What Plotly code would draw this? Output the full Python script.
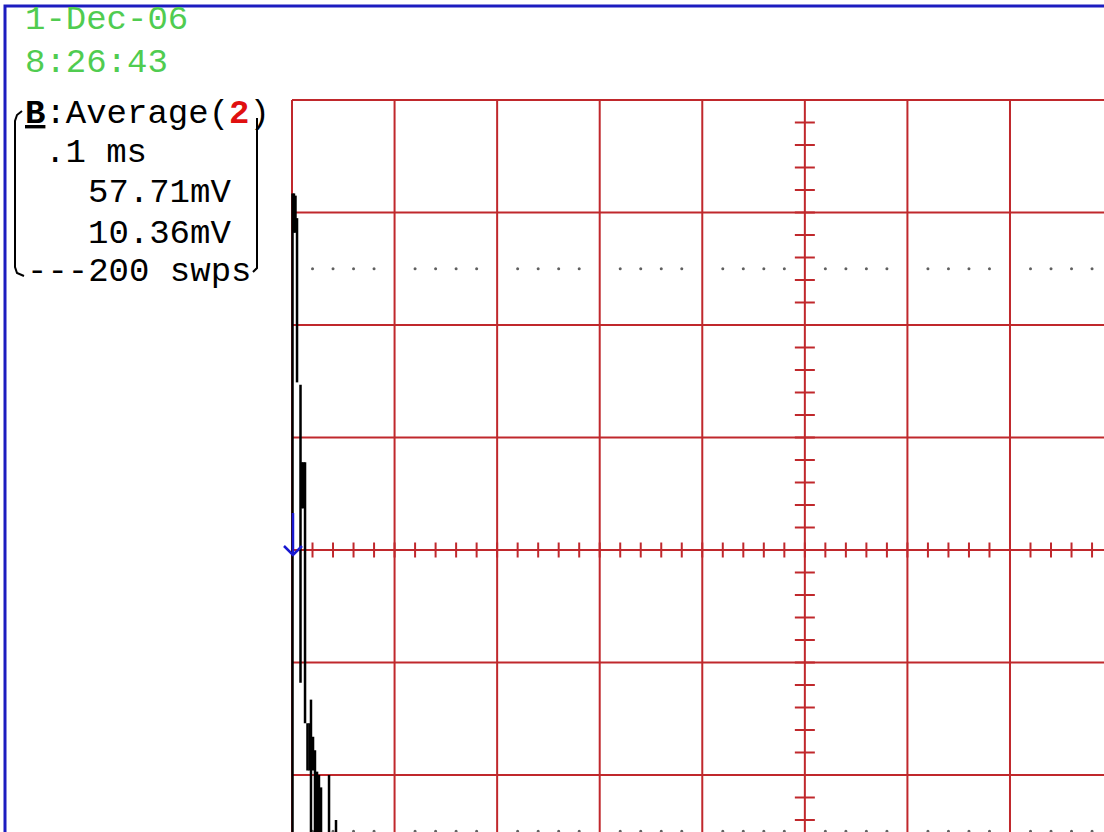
import plotly.graph_objects as go

# scope screen capture geometry (pixels)
WIDTH, HEIGHT = 1104, 832
X0_PX, Y0_PX = 292, 550        # left edge of graticule, centre line
DIV_W, DIV_H = 102.57, 112.5   # one division in pixels
MS_PER_DIV = 0.1


def t_at(px):
    return (px - X0_PX) / DIV_W * MS_PER_DIV


def v_at(py):
    return (Y0_PX - py) / DIV_H


# graticule: 10 x 8 divisions
grid_t = [i * MS_PER_DIV for i in range(11)]
grid_v = [-4, -3, -2, -1, 0, 1, 2, 3, 4]
minor_t = [i * 0.02 for i in range(51)]
minor_v = [i * 0.2 for i in range(-20, 21)]
cursor_v = [2.5, -2.5]

# channel B average, peak-detect columns: time (ms), max / min (div)
col_ms = [0.0005, 0.0019, 0.0034, 0.0049, 0.0083, 0.0097, 0.0112, 0.0127, 0.0151,
          0.0171, 0.0185, 0.0205, 0.0224, 0.0244, 0.0263, 0.0283, 0.0361, 0.0429]
col_max = [3.17, 3.17, 3.15, 2.95, 1.47, 0.78, 0.78, 0.78, -1.54,
           -1.54, -1.33, -1.66, -1.78, -1.97, -2.00, -2.11, -2.00, -2.40]
col_min = [-3.2, 2.82, 2.82, 1.49, -1.18, 0.37, 0.37, -1.54, -1.96,
           -1.96, -3.2, -1.96, -3.2, -3.2, -3.2, -3.2, -3.2, -3.2]

date_text = "1-Dec-06"
clock_text = "8:26:43"
readout = [
    "<b><u>B</u></b>:Average(<span style='color:#e01010'><b>2</b></span>)",
    ".1 ms",
    "57.71mV",
    "10.36mV",
    "---200 swps",
]

RED = "#c0282c"
FONT = "Liberation Mono"


def segments(pairs):
    xs, ys = [], []
    for (xa, ya), (xb, yb) in pairs:
        xs += [xa, xb, None]
        ys += [ya, yb, None]
    return xs, ys


fig = go.Figure()

# graticule lines
gx, gy = segments([((t, -4), (t, 4)) for t in grid_t] +
                  [((0, v), (1.0, v)) for v in grid_v])
fig.add_trace(go.Scatter(x=gx, y=gy, mode="lines", line=dict(color=RED, width=2),
                         hoverinfo="skip"))

# minor ticks on the centre axes
half_h = 7.5 / DIV_H
half_w = 10 / DIV_W * MS_PER_DIV
tx, ty = segments([((t, -half_h), (t, half_h)) for t in minor_t] +
                  [((0.5 - half_w, v), (0.5 + half_w, v)) for v in minor_v])
fig.add_trace(go.Scatter(x=tx, y=ty, mode="lines", line=dict(color=RED, width=2),
                         hoverinfo="skip"))

# dotted cursor lines
dx, dy = [], []
for v in cursor_v:
    for t in minor_t:
        if round(t / MS_PER_DIV, 3) % 1 != 0:
            dx.append(t)
            dy.append(v)
fig.add_trace(go.Scatter(x=dx, y=dy, mode="markers",
                         marker=dict(color="#606060", size=3), hoverinfo="skip"))

# waveform
wx, wy = segments([((t, hi), (t, lo)) for t, hi, lo in zip(col_ms, col_max, col_min)])
fig.add_trace(go.Scatter(x=wx, y=wy, mode="lines", line=dict(color="black", width=2.5),
                         hoverinfo="skip"))

# ground marker
fig.add_trace(go.Scatter(
    x=[t_at(293), t_at(293), None, t_at(284), t_at(293), t_at(302)],
    y=[v_at(513), v_at(554), None, v_at(546), v_at(555), v_at(546)],
    mode="lines", line=dict(color="#1818d0", width=2.5), hoverinfo="skip"))

# readout bracket
fig.add_trace(go.Scatter(
    x=[t_at(22), t_at(17), t_at(15), t_at(15), t_at(17), t_at(24), None,
       t_at(257), t_at(257), t_at(253)],
    y=[v_at(111), v_at(115), v_at(121), v_at(267), v_at(273), v_at(276), None,
       v_at(118), v_at(268), v_at(272)],
    mode="lines", line=dict(color="black", width=2), hoverinfo="skip"))

# screen frame
fig.add_trace(go.Scatter(
    x=[t_at(5), t_at(5), t_at(1110)], y=[v_at(840), v_at(6), v_at(6)],
    mode="lines", line=dict(color="#1c1cc0", width=3), hoverinfo="skip"))

green = dict(family=FONT, size=34, color="#50cc50")
black = dict(family=FONT, size=34, color="black")
fig.add_annotation(x=t_at(23), y=v_at(20), text=date_text, font=green)
fig.add_annotation(x=t_at(23), y=v_at(63), text=clock_text, font=green)
for text, px, py in zip(readout, [23, 43, 86, 86, 25], [114, 153, 193, 234, 272]):
    fig.add_annotation(x=t_at(px), y=v_at(py), text=text, font=black)
fig.update_annotations(xanchor="left", yanchor="middle", showarrow=False,
                       xref="x", yref="y")

fig.update_layout(
    width=WIDTH, height=HEIGHT,
    margin=dict(l=0, r=0, t=0, b=0),
    paper_bgcolor="white", plot_bgcolor="white",
    showlegend=False,
    xaxis=dict(range=[t_at(0), t_at(WIDTH)], visible=False, fixedrange=True),
    yaxis=dict(range=[v_at(HEIGHT), v_at(0)], visible=False, fixedrange=True),
)

# page has the default 8px body margin; the capture starts at the screen edge
fig.write_html("out.html", config={"displayModeBar": False},
               post_script="document.body.style.margin = '0';")
